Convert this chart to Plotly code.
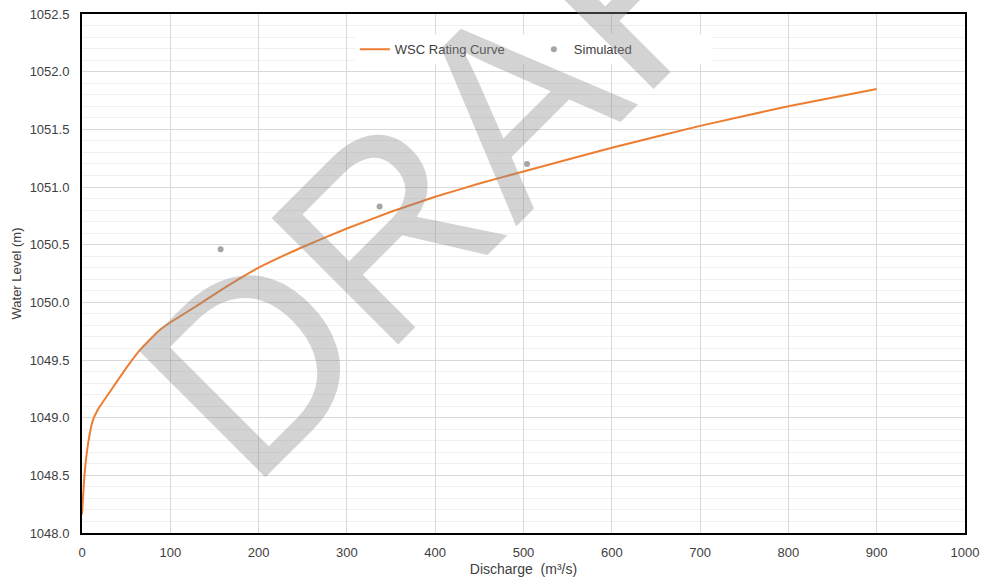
import plotly.graph_objects as go

# Rating curve (discharge m3/s, water level m)
rating_q = [0, 3, 7, 12, 18, 33, 50, 66, 88, 100, 133, 156, 200, 250, 300,
            350, 400, 450, 500, 600, 700, 800, 900]
rating_h = [1048.16, 1048.52, 1048.78, 1048.97, 1049.07, 1049.24, 1049.43,
            1049.59, 1049.76, 1049.825, 1049.985, 1050.10, 1050.30, 1050.48,
            1050.64, 1050.785, 1050.915, 1051.03, 1051.135, 1051.34, 1051.53,
            1051.70, 1051.85]

# Simulated points
sim_q = [157, 337, 504]
sim_h = [1050.46, 1050.83, 1051.20]

FONT = "Liberation Sans, Arial, sans-serif"
TXT = "#404040"

fig = go.Figure()
fig.add_trace(go.Scatter(
    x=rating_q, y=rating_h, mode="lines", name="WSC Rating Curve",
    line=dict(color="#ED7D31", width=2, shape="spline", smoothing=0.4),
))
fig.add_trace(go.Scatter(
    x=sim_q, y=sim_h, mode="markers", name="Simulated",
    marker=dict(color="#A5A5A5", size=6),
))

fig.add_annotation(
    text="DRAFT", x=466, y=1051.56, xref="x", yref="y",
    showarrow=False, textangle=-45,
    font=dict(family=FONT, size=260, color="rgba(140,140,140,0.38)"),
    xanchor="center", yanchor="middle",
)

fig.update_layout(
    width=981, height=577,
    margin=dict(l=82, r=16, t=14, b=44),
    paper_bgcolor="white", plot_bgcolor="white",
    font=dict(family=FONT, size=13, color=TXT),
    showlegend=True,
    legend=dict(
        orientation="h", x=0.309, y=0.932, xanchor="left", yanchor="middle",
        bgcolor="white", font=dict(size=13, color=TXT),
        entrywidth=134, entrywidthmode="pixels",
    ),
    xaxis=dict(
        range=[0, 1000], dtick=100, tick0=0, automargin=False,
        showgrid=True, gridcolor="#D9D9D9", gridwidth=1,
        showline=True, linecolor="black", linewidth=2, mirror=True,
        ticks="", zeroline=False, ticklabelstandoff=6,
        title=dict(text="Discharge  (m³/s)", font=dict(size=14, color=TXT), standoff=6),
    ),
    yaxis=dict(
        range=[1048.0, 1052.5], dtick=0.5, tick0=1048.0, tickformat=".1f",
        automargin=False,
        showgrid=True, gridcolor="#D9D9D9", gridwidth=1,
        minor=dict(dtick=0.1, showgrid=True, gridcolor="#F0F0F0", gridwidth=1),
        showline=True, linecolor="black", linewidth=2, mirror=True,
        ticks="", zeroline=False, ticklabelstandoff=8,
        title=dict(text="Water Level (m)", font=dict(size=13, color=TXT), standoff=5),
    ),
)

fig.write_html("out.html")
